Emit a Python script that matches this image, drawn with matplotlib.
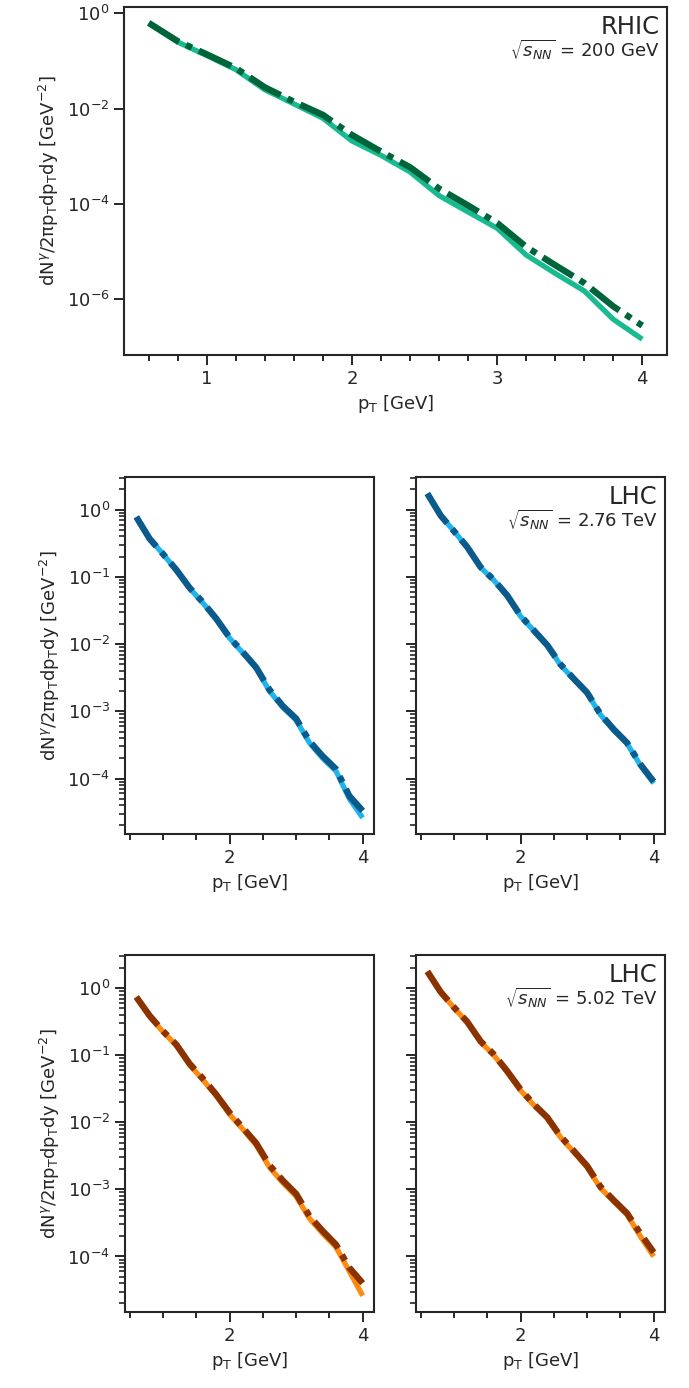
import matplotlib
matplotlib.use("Agg")
import matplotlib.pyplot as plt
from matplotlib.ticker import MultipleLocator, NullLocator, LogLocator

# photon transverse momentum grid [GeV]
pt = [0.6, 0.8, 1.0, 1.2, 1.4, 1.6, 1.8, 2.0, 2.2, 2.4,
      2.6, 2.8, 3.0, 3.2, 3.4, 3.6, 3.8, 4.0]

# RHIC, sqrt(s_NN) = 200 GeV
rhic_a = [6.2e-1, 2.5e-1, 1.3e-1, 6.6e-2, 2.5e-2, 1.26e-2, 6.3e-3, 2.1e-3, 1.05e-3,
          4.7e-4, 1.5e-4, 6.8e-5, 3.1e-5, 8.5e-6, 3.5e-6, 1.5e-6, 3.8e-7, 1.45e-7]
rhic_b = [6.3e-1, 2.6e-1, 1.38e-1, 7.1e-2, 2.8e-2, 1.4e-2, 7.4e-3, 2.8e-3, 1.26e-3,
          5.9e-4, 2.1e-4, 9.3e-5, 4.0e-5, 1.26e-5, 5.2e-6, 2.2e-6, 7.1e-7, 2.8e-7]

# LHC, sqrt(s_NN) = 2.76 TeV
lhc276_left_a = [7.8e-1, 3.7e-1, 2.2e-1, 1.26e-1, 6.8e-2, 4.1e-2, 2.34e-2, 1.23e-2, 7.4e-3,
                 4.4e-3, 2.0e-3, 1.15e-3, 7.4e-4, 3.4e-4, 2.0e-4, 1.29e-4, 5.0e-5, 2.6e-5]
lhc276_left_b = [7.8e-1, 3.7e-1, 2.2e-1, 1.28e-1, 6.9e-2, 4.2e-2, 2.4e-2, 1.26e-2, 7.6e-3,
                 4.5e-3, 2.1e-3, 1.2e-3, 7.8e-4, 3.6e-4, 2.15e-4, 1.38e-4, 5.5e-5, 3.3e-5]
lhc276_right_a = [1.74, 8.2e-1, 4.8e-1, 2.75e-1, 1.38e-1, 8.9e-2, 5.2e-2, 2.6e-2, 1.58e-2,
                  9.5e-3, 4.9e-3, 3.0e-3, 1.86e-3, 8.9e-4, 5.2e-4, 3.3e-4, 1.58e-4, 8.5e-5]
lhc276_right_b = [1.74, 8.2e-1, 4.8e-1, 2.78e-1, 1.4e-1, 9.0e-2, 5.3e-2, 2.65e-2, 1.6e-2,
                  9.7e-3, 5.0e-3, 3.05e-3, 1.9e-3, 9.1e-4, 5.4e-4, 3.4e-4, 1.62e-4, 9.0e-5]

# LHC, sqrt(s_NN) = 5.02 TeV
lhc502_left_a = [7.4e-1, 3.8e-1, 2.24e-1, 1.41e-1, 7.2e-2, 4.3e-2, 2.5e-2, 1.32e-2, 7.9e-3,
                 4.6e-3, 2.14e-3, 1.26e-3, 7.9e-4, 3.7e-4, 2.2e-4, 1.38e-4, 6.0e-5, 2.6e-5]
lhc502_left_b = [7.4e-1, 3.9e-1, 2.3e-1, 1.45e-1, 7.5e-2, 4.5e-2, 2.6e-2, 1.4e-2, 8.3e-3,
                 4.9e-3, 2.3e-3, 1.36e-3, 8.6e-4, 4.0e-4, 2.4e-4, 1.5e-4, 6.8e-5, 4.0e-5]
lhc502_right_a = [1.78, 8.7e-1, 5.1e-1, 3.1e-1, 1.58e-1, 1.0e-1, 5.6e-2, 3.0e-2, 1.8e-2,
                  1.15e-2, 6.0e-3, 3.6e-3, 2.14e-3, 1.05e-3, 6.6e-4, 4.2e-4, 2.0e-4, 1.0e-4]
lhc502_right_b = [1.78, 8.8e-1, 5.2e-1, 3.15e-1, 1.62e-1, 1.03e-1, 5.8e-2, 3.1e-2, 1.86e-2,
                  1.19e-2, 6.2e-3, 3.75e-3, 2.24e-3, 1.1e-3, 6.9e-4, 4.4e-4, 2.2e-4, 1.15e-4]

GREEN = ("#17bb8f", "#00643a")
BLUE = ("#1fb4ec", "#0b5a8c")
ORANGE = ("#ff8a0d", "#8b3300")

YLABEL = "dN$^{\\gamma}$/2πp$_{\\mathrm{T}}$dp$_{\\mathrm{T}}$dy [GeV$^{-2}$]"
XLABEL = "p$_{\\mathrm{T}}$ [GeV]"

plt.rcParams.update({
    "font.family": "DejaVu Sans",
    "font.size": 13,
    "text.color": "#262626",
    "axes.labelcolor": "#262626",
    "axes.edgecolor": "#262626",
    "axes.linewidth": 1.5,
    "xtick.color": "#262626",
    "ytick.color": "#262626",
    "xtick.major.size": 7,
    "ytick.major.size": 7,
    "xtick.minor.size": 4.5,
    "ytick.minor.size": 4,
    "xtick.major.width": 1.4,
    "ytick.major.width": 1.4,
    "xtick.minor.width": 1.4,
    "ytick.minor.width": 1.2,
    "xtick.labelsize": 13,
    "ytick.labelsize": 13,
    "axes.labelsize": 13,
})


def draw(ax, light, dark, colors):
    ax.plot(pt, light, color=colors[0], lw=3.8, solid_capstyle="butt")
    ax.plot(pt, dark, color=colors[1], lw=4.6, dashes=(5.6, 1.2, 1.0, 1.2))
    ax.set_yscale("log")
    ax.set_xlabel(XLABEL)


def tag(ax, name, energy):
    ax.annotate(name, xy=(1, 1), xycoords="axes fraction", xytext=(-5.5, -5.5),
                textcoords="offset points", ha="right", va="top", fontsize=17.5)
    ax.annotate(r"$\sqrt{s_{NN}}$ = " + energy, xy=(1, 1), xycoords="axes fraction",
                xytext=(-5.5, -36), textcoords="offset points", ha="right",
                va="baseline", fontsize=13)


fig = plt.figure(figsize=(6.89, 13.88), dpi=100)

# top row: RHIC
ax = fig.add_axes([0.180, 0.7442, 0.788, 0.2507])
draw(ax, rhic_a, rhic_b, GREEN)
ax.set_yticks([1, 1e-2, 1e-4, 1e-6])
ax.yaxis.set_minor_locator(NullLocator())
ax.xaxis.set_major_locator(MultipleLocator(1))
ax.xaxis.set_minor_locator(MultipleLocator(0.2))
ax.set_ylabel(YLABEL)
tag(ax, "RHIC", "200 GeV")

# lower rows: LHC energies
rows = [
    (0.3991, lhc276_left_a, lhc276_left_b, lhc276_right_a, lhc276_right_b, BLUE, "2.76 TeV"),
    (0.0548, lhc502_left_a, lhc502_left_b, lhc502_right_a, lhc502_right_b, ORANGE, "5.02 TeV"),
]
for bottom, la, lb, ra, rb, colors, energy in rows:
    axl = fig.add_axes([0.1814, bottom, 0.3614, 0.2570])
    axr = fig.add_axes([0.6038, bottom, 0.3614, 0.2570], sharey=axl)
    draw(axl, la, lb, colors)
    draw(axr, ra, rb, colors)
    for a in (axl, axr):
        a.set_yticks([1, 1e-1, 1e-2, 1e-3, 1e-4])
        a.yaxis.set_minor_locator(LogLocator(subs=range(2, 10), numticks=20))
        a.xaxis.set_major_locator(MultipleLocator(2))
        a.xaxis.set_minor_locator(MultipleLocator(0.5))
    axr.tick_params(labelleft=False)
    axl.set_ylabel(YLABEL)
    tag(axr, "LHC", energy)

fig.savefig("out.png", dpi=100)
